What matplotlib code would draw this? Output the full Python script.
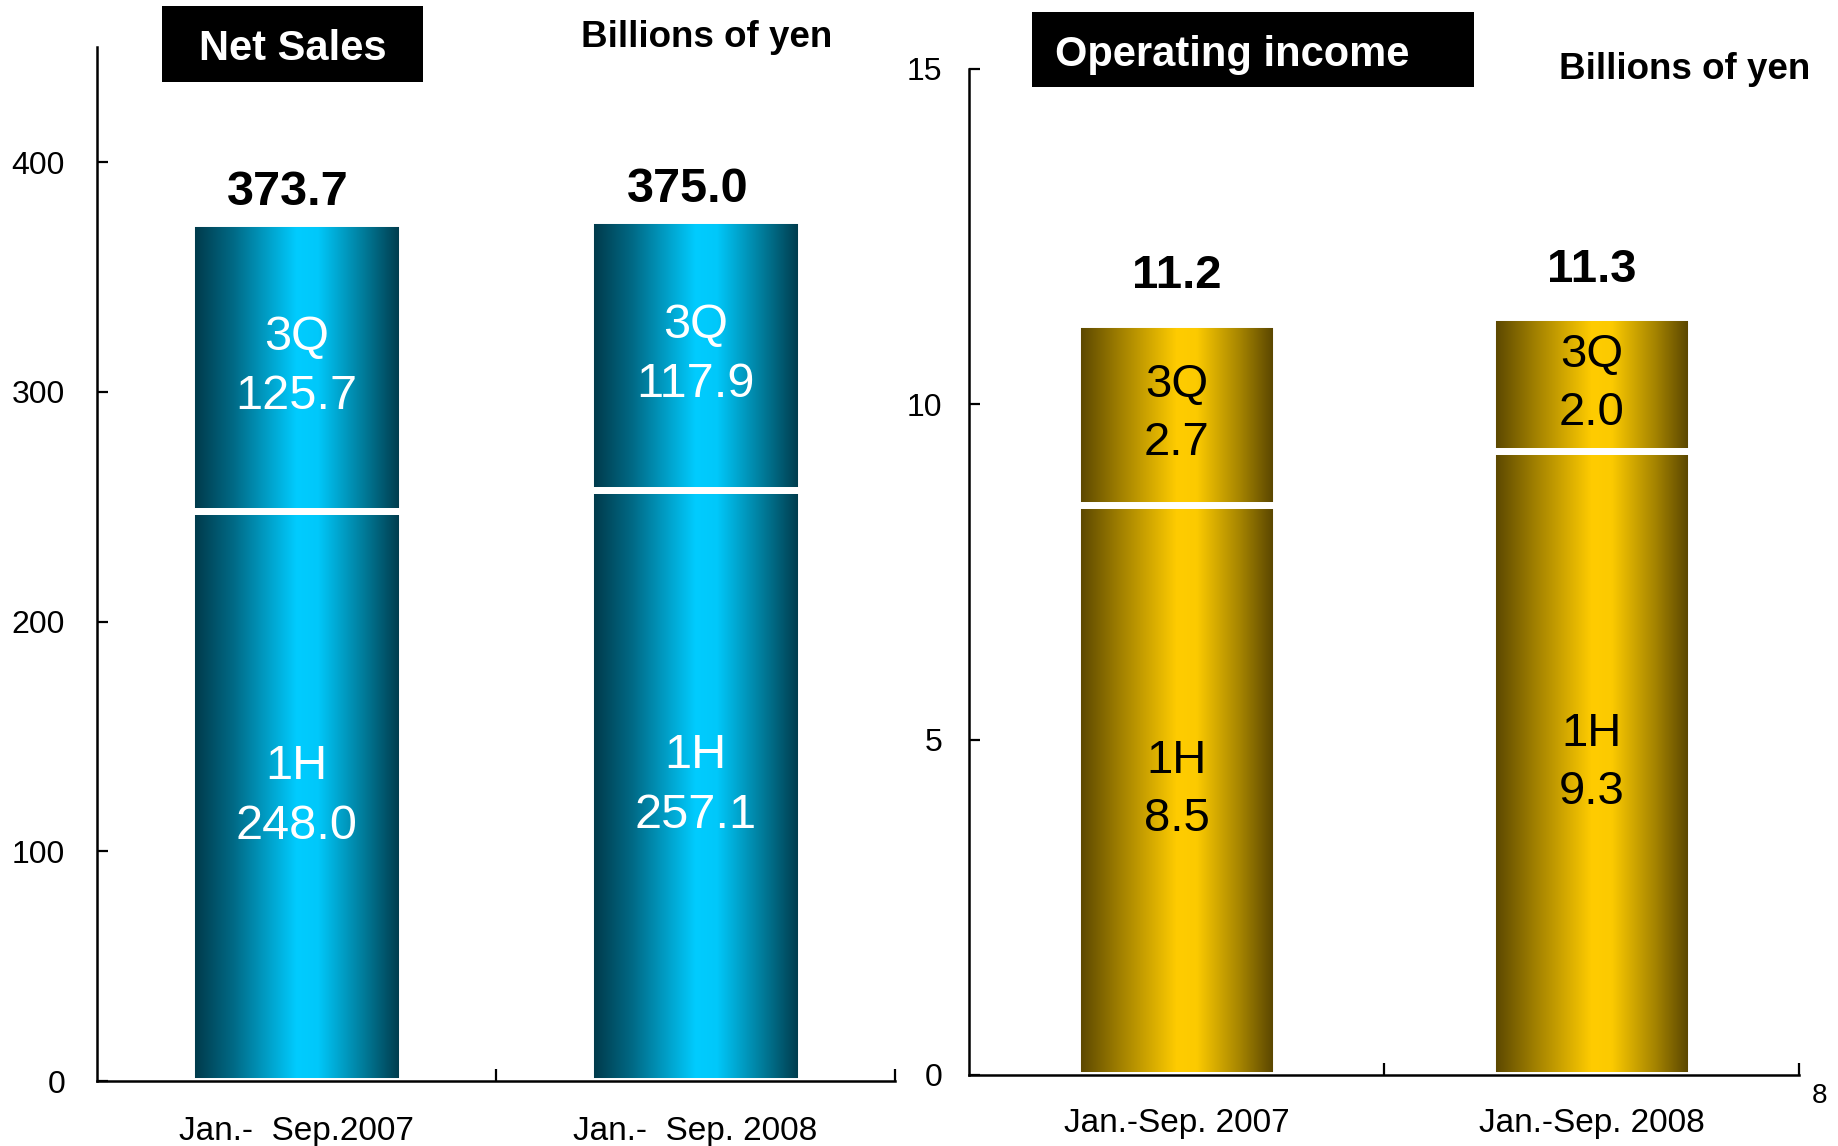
import numpy as np
import matplotlib
matplotlib.use("Agg")
import matplotlib.pyplot as plt
from matplotlib.colors import LinearSegmentedColormap
from matplotlib.patches import Rectangle

# ---- data -------------------------------------------------------------
sales_periods = ["Jan.-  Sep.2007", "Jan.-  Sep. 2008"]
income_periods = ["Jan.-Sep. 2007", "Jan.-Sep. 2008"]
sales_1h = [248.0, 257.1]
sales_3q = [125.7, 117.9]
sales_total = [373.7, 375.0]
income_1h = [8.5, 9.3]
income_3q = [2.7, 2.0]
income_total = [11.2, 11.3]
segment_names = ["1H", "3Q"]
sales_yticks = [0, 100, 200, 300, 400]
income_yticks = [0, 5, 10, 15]

plt.rcParams['font.family'] = ['Liberation Sans', 'DejaVu Sans']

fig = plt.figure(figsize=(18.38, 11.46), dpi=100)

cyan_cmap = LinearSegmentedColormap.from_list(
    "cyan_tube",
    [(0.0, "#003646"), (0.2, "#006a86"), (0.5, "#00ccff"),
     (0.6, "#00c8fa"), (0.82, "#007a98"), (1.0, "#003646")])
gold_cmap = LinearSegmentedColormap.from_list(
    "gold_tube",
    [(0.0, "#564300"), (0.2, "#9c7c00"), (0.5, "#ffcc00"),
     (0.6, "#fcca00"), (0.82, "#a48300"), (1.0, "#534000")])

gradient = np.linspace(0, 1, 256).reshape(1, -1)


def tube_bars(ax, heights, bottoms, width, cmap):
    """Bars filled with a horizontal shading, separated by white gaps."""
    x = np.arange(len(heights))
    bars = ax.bar(x, heights, width, bottom=bottoms, facecolor="none",
                  edgecolor="white", linewidth=5, zorder=3)
    for b in bars:
        x0, y0 = b.get_x(), b.get_y()
        im = ax.imshow(gradient, cmap=cmap, aspect="auto", zorder=2,
                       interpolation="bicubic",
                       extent=(x0, x0 + b.get_width(), y0, y0 + b.get_height()))
        im.set_clip_path(b)
    return bars


def style_axes(ax, ymax, yticks, pad):
    ax.set_xlim(-0.5, 1.5)
    ax.set_ylim(0, ymax)
    for s in ("top", "right"):
        ax.spines[s].set_visible(False)
    for s in ("left", "bottom"):
        ax.spines[s].set_linewidth(1.8)
        ax.spines[s].set_zorder(6)
    ax.set_yticks(yticks)
    ax.tick_params(axis="y", direction="in", length=8, width=1.6,
                   labelsize=23, pad=pad)
    ax.set_xticks([0.5, 1.5])
    ax.set_xticklabels([])
    ax.tick_params(axis="x", direction="in", length=9, width=1.6)
    ax.set_facecolor("none")


def segment_labels(ax, heights, bottoms, name, fmt, color, size):
    for i, (h, b) in enumerate(zip(heights, bottoms)):
        ax.text(i, b + h / 2, f"{name}\n{fmt.format(h)}", ha="center",
                va="center", color=color, fontsize=size, linespacing=1.42,
                zorder=7)


# ---- Net Sales ---------------------------------------------------------
axL = fig.add_axes([0.0528, 0.0567, 0.4342, 0.902])
tube_bars(axL, sales_1h, [0, 0], 0.53, cyan_cmap)
tube_bars(axL, sales_3q, sales_1h, 0.53, cyan_cmap)
style_axes(axL, 450, sales_yticks, 23)
segment_labels(axL, sales_1h, [0, 0], segment_names[0], "{:.1f}", "white", 35)
segment_labels(axL, sales_3q, sales_1h, segment_names[1], "{:.1f}", "white", 35)
for i, t in enumerate(sales_total):
    axL.annotate(f"{t:.1f}", (i, t), xytext=(-6, 22), textcoords="offset points",
                 ha="center", va="center", fontsize=35, fontweight="bold")
for i, lab in enumerate(sales_periods):
    axL.annotate(lab, (i, 0), xycoords=("data", "axes fraction"),
                 xytext=(0, -36), textcoords="offset points",
                 ha="center", va="center", fontsize=24)

# ---- Operating income --------------------------------------------------
axR = fig.add_axes([0.5272, 0.062, 0.4516, 0.878])
tube_bars(axR, income_1h, [0, 0], 0.48, gold_cmap)
tube_bars(axR, income_3q, income_1h, 0.48, gold_cmap)
style_axes(axR, 15, income_yticks, 19)
segment_labels(axR, income_1h, [0, 0], segment_names[0], "{:.1f}", "black", 34)
segment_labels(axR, income_3q, income_1h, segment_names[1], "{:.1f}", "black", 34)
for i, t in enumerate(income_total):
    axR.annotate(f"{t:.1f}", (i, t), xytext=(0, 34), textcoords="offset points",
                 ha="center", va="center", fontsize=34, fontweight="bold")
for i, lab in enumerate(income_periods):
    axR.annotate(lab, (i, 0), xycoords=("data", "axes fraction"),
                 xytext=(0, -35), textcoords="offset points",
                 ha="center", va="center", fontsize=24)

# ---- headings ----------------------------------------------------------
fig.patches.append(Rectangle((0.0881, 0.9284), 0.142, 0.0663,
                             transform=fig.transFigure, facecolor="black",
                             edgecolor="none", zorder=1))
fig.text(0.1591, 0.9575, "Net Sales", color="white", fontsize=30,
         fontweight="bold", ha="center", va="center")
fig.text(0.3842, 0.967, "Billions of yen", fontsize=26.5,
         fontweight="bold", ha="center", va="center")

fig.patches.append(Rectangle((0.5613, 0.9243), 0.2405, 0.0654,
                             transform=fig.transFigure, facecolor="black",
                             edgecolor="none", zorder=1))
fig.text(0.6706, 0.952, "Operating income", color="white", fontsize=30,
         fontweight="bold", ha="center", va="center")
fig.text(0.9168, 0.9395, "Billions of yen", fontsize=26.5,
         fontweight="bold", ha="center", va="center")

fig.text(0.990, 0.0435, "8", fontsize=20, ha="center", va="center")

fig.savefig("out.png", dpi=100, facecolor="white")
